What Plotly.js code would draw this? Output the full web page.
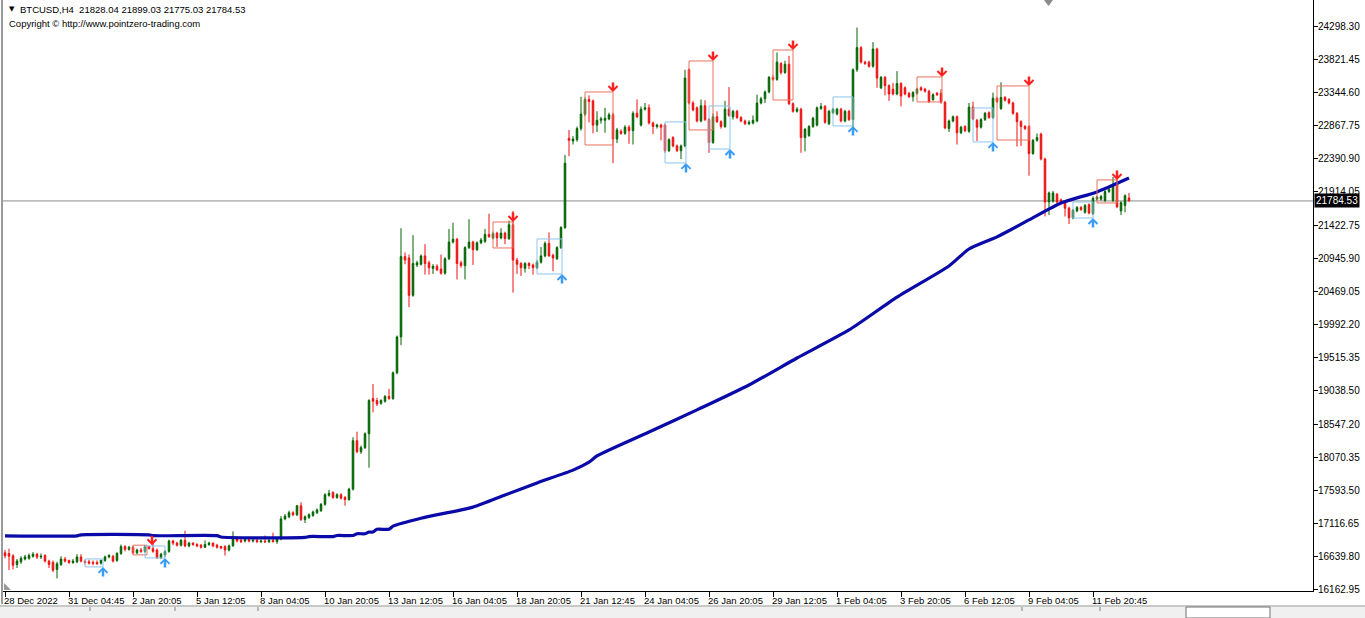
<!DOCTYPE html>
<html><head><meta charset="utf-8">
<script src="https://cdn.plot.ly/plotly-3.0.1.min.js"></script>
<style>html,body{margin:0;padding:0;background:#fff;}#chart{width:1365px;height:618px;}</style>
</head><body><div id="chart"></div>
<script>
// ---- candle data (BTCUSD H4), index 0 = 28 Dec 2022 ----
const opens = [
16700,16690,16656,16530,16570,16610,16620,16650,16680,16640,
16660,16580,16560,16460,16530,16610,16590,16560,16570,16640,
16580,16570,16560,16560,16550,16590,16640,16650,16590,16690,
16790,16750,16780,16700,16740,16720,16790,16760,16740,16630,
16670,16720,16870,16840,16810,16880,16800,16840,16820,16810,
16780,16820,16840,16810,16790,16790,16740,16800,16900,16880,
16870,16890,16870,16880,16860,16870,16860,16880,16860,16900,
17190,17220,17280,17250,17380,17180,17210,17240,17280,17310,
17400,17530,17570,17500,17540,17500,17470,17620,18320,18160,
18220,18420,18930,18900,18860,18890,18960,18930,19300,19820,
20980,20960,20420,20860,20870,20990,20890,20810,20840,20800,
20740,20950,21190,21230,20890,20850,21110,21190,21080,21180,
21200,21300,21250,21320,21250,21320,21240,21440,20930,20880,
20810,20880,20860,20820,20900,20990,21170,21000,20950,21110,
21400,22690,22650,22670,22830,23040,23250,23230,22880,22950,
22950,22970,23030,22680,22790,22760,22850,22800,23050,22880,
23110,23130,22910,22860,22880,22880,22510,22700,22580,22510,
22580,23680,23200,23130,22940,23160,22960,22630,23000,22930,
22860,23110,23000,23080,22990,22940,22900,22910,22940,23200,
23260,23360,23570,23540,23770,23640,23760,23190,23080,23110,
22700,22730,22860,22880,23120,23150,22900,23060,23040,23110,
22940,23080,22960,23680,24000,23790,23790,23730,23980,23420,
23570,23450,23400,23330,23480,23420,23340,23290,23340,23420,
23400,23370,23250,23340,23340,23210,22830,22940,23000,22770,
22860,22790,23140,22950,22850,22960,23060,22990,23270,23120,
23280,23250,23200,23050,22930,22860,22860,22470,22660,22750,
22390,21770,21780,21880,21800,21760,21680,21540,21640,21690,
21620,21730,21600,21810,21810,21790,21920,21790,22040,21640,
21720,21828.04];
const highs = [
16740,16760,16680,16610,16650,16670,16690,16710,16700,16690,
16680,16600,16590,16570,16650,16640,16600,16610,16680,16680,
16600,16600,16590,16590,16600,16660,16680,16670,16710,16820,
16810,16800,16800,16760,16770,16810,16800,16860,16760,16700,
16740,16890,16890,16860,16900,17020,16860,16850,16840,16830,
16880,16860,16850,16830,16800,16810,16820,17010,16920,16900,
16920,16910,16900,16900,16890,16950,16900,16990,16920,17230,
17260,17310,17300,17390,17430,17240,17270,17310,17340,17420,
17560,17610,17590,17560,17560,17520,17640,18370,18450,18250,
18440,18920,19140,18940,18920,18980,19070,19320,19840,21390,
21040,21010,21290,20920,21010,21160,20920,20870,20870,21010,
20970,21380,21470,21250,20920,21130,21520,21210,21200,21250,
21380,21600,21340,21340,21390,21340,21500,21640,20960,20900,
20900,20900,20880,20930,21120,21200,21330,21020,21130,21420,
22450,22810,22720,22860,23290,23280,23310,23250,23080,23000,
23130,23060,23060,22840,22820,22880,22880,23080,23250,23150,
23200,23180,22930,22900,22900,22900,22690,22720,22600,22600,
23680,23700,23230,23150,23250,23240,22980,23050,23080,22950,
23230,23430,23100,23100,23010,22960,22950,23020,23320,23290,
23380,23590,23600,23930,23790,23810,23880,23210,23140,23130,
22840,22880,23000,23150,23200,23170,23100,23130,23130,23130,
23100,23100,23700,24290,24020,23810,23810,24080,24000,23590,
23590,23470,23490,23660,23500,23440,23360,23370,23420,23440,
23420,23390,23340,23360,23400,23230,22960,23020,23020,22870,
22880,23200,23220,22970,22980,23070,23080,23350,23290,23500,
23300,23270,23220,23070,22950,22880,22880,22680,22760,22770,
22410,21920,21930,21900,21820,21780,21700,21670,21710,21710,
21740,21750,21850,21860,21870,21940,21970,22130,22180,21780,
21880,21899.03];
const lows = [
16620,16450,16460,16480,16540,16590,16600,16630,16610,16610,
16560,16480,16420,16330,16510,16560,16540,16540,16550,16560,
16530,16530,16520,16530,16530,16570,16620,16560,16570,16670,
16720,16730,16680,16680,16700,16700,16750,16700,16610,16610,
16640,16700,16810,16790,16790,16780,16780,16800,16780,16760,
16770,16800,16780,16760,16750,16660,16720,16790,16850,16840,
16850,16850,16850,16840,16840,16840,16840,16850,16830,16880,
17170,17200,17230,17230,17160,17130,17190,17220,17260,17290,
17380,17510,17480,17480,17470,17380,17450,17600,18140,18130,
18200,17930,18730,18820,18840,18870,18910,18910,19280,19700,
20870,20250,20400,20830,20850,20720,20720,20730,20770,20720,
20720,20930,21170,20650,20820,20650,21090,20860,21060,21160,
21180,21250,21230,21120,21230,21160,21220,20460,20730,20700,
20750,20800,20720,20800,20880,20970,20980,20770,20930,21090,
21380,22430,22600,22640,22800,23010,22920,22760,22780,22900,
22770,22950,22330,22620,22740,22740,22610,22600,22980,22860,
23090,22890,22750,22830,22660,22480,22490,22560,22490,22390,
22560,23180,23080,22920,22920,22940,22480,22610,22910,22830,
22840,23000,22960,22970,22920,22880,22880,22890,22920,23180,
23200,23340,23520,23520,23610,23620,23170,23060,23060,22480,
22500,22710,22840,22860,23100,22900,22880,23040,23020,22920,
22920,22940,22750,23650,23770,23750,23710,23710,23420,23400,
23310,23230,23310,23310,23150,23310,23270,23220,23320,23370,
23350,23200,23230,23300,23190,22820,22780,22920,22600,22750,
22780,22770,22950,22650,22830,22940,22970,22970,23200,23100,
23220,23180,23030,22570,22580,22810,22150,22450,22640,22370,
21560,21580,21760,21750,21740,21560,21450,21520,21620,21640,
21600,21590,21580,21790,21790,21770,21900,21770,21680,21580,
21620,21775.03];
const closes = [
16656,16650,16520,16580,16620,16640,16660,16680,16640,16650,
16580,16530,16450,16540,16610,16580,16560,16580,16640,16580,
16560,16550,16550,16540,16590,16640,16660,16580,16690,16790,
16750,16780,16700,16740,16720,16790,16760,16720,16630,16680,
16720,16870,16840,16810,16880,16800,16840,16820,16800,16780,
16820,16840,16800,16780,16770,16740,16800,16900,16870,16860,
16890,16870,16880,16860,16870,16860,16880,16860,16900,17190,
17230,17280,17250,17380,17180,17220,17250,17290,17320,17400,
17540,17560,17500,17540,17490,17470,17620,18320,18160,18220,
18420,18900,18890,18850,18900,18960,18930,19300,19820,20980,
20930,20420,20880,20890,20990,20880,20820,20840,20790,20740,
20950,21190,21230,20880,20850,21110,21190,21080,21180,21220,
21300,21270,21310,21250,21320,21240,21440,20930,20870,20820,
20880,20850,20820,20900,20990,21170,20990,20960,21110,21400,
22330,22660,22680,22830,23040,23250,23220,22880,22950,22970,
22980,23030,22680,22810,22760,22850,22800,23050,23000,23110,
23130,22910,22860,22880,22850,22510,22670,22580,22510,22580,
23560,23200,23100,22940,23160,22960,22630,23000,22930,22860,
23110,23020,23080,22990,22940,22900,22920,22950,23200,23260,
23360,23570,23540,23790,23640,23760,23190,23080,23110,22700,
22820,22860,22980,23130,23150,22920,23080,23110,23110,22940,
23080,22960,23680,24000,23790,23770,23730,23980,23560,23570,
23450,23330,23330,23480,23300,23330,23290,23350,23400,23390,
23370,23220,23320,23320,23210,22840,22940,23000,22770,22850,
22800,23140,22970,22850,22960,23050,22990,23270,23220,23280,
23240,23200,23050,22930,22860,22830,22470,22660,22700,22390,
21770,21900,21900,21770,21760,21680,21540,21650,21690,21660,
21720,21610,21820,21840,21850,21920,21950,22020,21700,21760,
21860,21784.53];

// ---- moving average (sampled at bar indices) ----
const maIdx = [0,18,19,36,37,53,54,75,76,82,83,87,88,90,91,92,93,96,97,104,117,125,133,142,146,148,161,173,186,198,211,223,236,241,248,256,264,273,281];
const maVal = [16945,16945,16960,16960,16948,16948,16928,16922,16935,16935,16950,16950,16975,16975,17000,17000,17040,17040,17085,17200,17360,17535,17710,17895,18010,18100,18445,18765,19125,19515,19920,20395,20845,21090,21265,21510,21755,21915,22115];

// ---- signal boxes ----
const redBoxX0 = [32,122,145,171,192,228,248,273];
const redBoxX1 = [35.5,127,152,177,197,234.25,256,278];
const redBoxLo = [16670,21105,22593,22810,23243,23215,22665,21755];
const redBoxHi = [16810,21480,23359,23807,23966,23576,23446,22088];
const redArrowX = [36.75,127,152,177,197,234.25,256,278];
const blueBoxX0 = [20,35,133,165,176,207,242,267];
const blueBoxX1 = [24.5,40,139.25,170.25,181.25,212,247,272];
const blueBoxLo = [16496,16626,20729,22333,22535,22868,22637,21538];
const blueBoxHi = [16611,16799,21235,22926,23157,23287,23128,21770];

// ---- axes ----
const yTicks = [24298.30,23821.45,23344.60,22867.75,22390.90,21914.05,21422.75,20945.90,20469.05,19992.20,19515.35,19038.50,18547.20,18070.35,17593.50,17116.65,16639.80,16162.95];
const xLabelIdx = [0,16,32,48,64,80,96,112,128,144,160,176,192,208,224,240,256,272];
const xLabels = ['28 Dec 2022','31 Dec 04:45','2 Jan 20:05','5 Jan 12:05','8 Jan 04:05','10 Jan 20:05','13 Jan 12:05','16 Jan 04:05','18 Jan 20:05','21 Jan 12:45','24 Jan 04:05','26 Jan 20:05','29 Jan 12:05','1 Feb 04:05','3 Feb 20:05','6 Feb 12:05','9 Feb 04:05','11 Feb 20:45'];
const lastPrice = 21784.53;
const symbolLine = 'BTCUSD,H4\u00a0\u00a021828.04 21899.03 21775.03 21784.53';
const copyrightLine = 'Copyright \u00a9 http://www.pointzero-trading.com';

const barIdx = closes.map((_, i) => i);
const FONT = 'Liberation Sans, Arial, sans-serif';

// pixel helpers for decorations outside the data (plot area: x 3..1313, y 0..591)
const PL = 3, PR = 1313, PT = 0, PB = 591;
const px = v => (v - PL) / (PR - PL);
const py = v => (PB - v) / (PB - PT);

const traces = [
  {
    type: 'candlestick', x: barIdx, open: opens, high: highs, low: lows, close: closes,
    increasing: {line: {color: '#006400', width: 1}, fillcolor: '#006400'},
    decreasing: {line: {color: '#ee1111', width: 1}, fillcolor: '#ee1111'},
    whiskerwidth: 0, hoverinfo: 'skip', showlegend: false
  },
  {
    type: 'scatter', mode: 'lines', x: maIdx, y: maVal,
    line: {color: '#0a0aa8', width: 3.2, shape: 'spline', smoothing: 0.6}, hoverinfo: 'skip', showlegend: false
  }
];

const shapes = [];
const annotations = [];

// price line
shapes.push({type: 'line', xref: 'paper', x0: 0, x1: 1, yref: 'y', y0: lastPrice, y1: lastPrice, line: {color: '#8c8c8c', width: 1}, layer: 'below'});

redBoxX0.forEach((x0, k) => {
  shapes.push({type: 'rect', xref: 'x', yref: 'y', x0: x0, x1: redBoxX1[k], y0: redBoxLo[k], y1: redBoxHi[k], line: {color: '#e8735f', width: 1}, fillcolor: 'rgba(0,0,0,0)'});
  annotations.push({xref: 'x', yref: 'y', x: redArrowX[k], y: redBoxHi[k], text: '', showarrow: true, arrowhead: 4, arrowsize: 0.7, arrowwidth: 2.5, arrowcolor: '#ff2020', ax: 0, ay: -11});
});
blueBoxX0.forEach((x0, k) => {
  shapes.push({type: 'rect', xref: 'x', yref: 'y', x0: x0, x1: blueBoxX1[k], y0: blueBoxLo[k], y1: blueBoxHi[k], line: {color: '#8cc4ec', width: 1}, fillcolor: 'rgba(0,0,0,0)'});
  annotations.push({xref: 'x', yref: 'y', x: blueBoxX1[k], y: blueBoxLo[k], text: '', showarrow: true, arrowhead: 4, arrowsize: 0.7, arrowwidth: 2.5, arrowcolor: '#3a9cf5', ax: 0, ay: 11});
});

// x labels (left-aligned at tick like MT4)
xLabelIdx.forEach((xi, k) => {
  annotations.push({xref: 'x', yref: 'paper', x: xi, y: 0, xanchor: 'left', yanchor: 'top', yshift: -2, xshift: -3, text: xLabels[k], showarrow: false, font: {family: FONT, size: 9.5, color: '#000'}});
});

// header texts
annotations.push({xref: 'paper', yref: 'paper', x: px(7), y: py(9), xanchor: 'left', yanchor: 'middle', text: '\u25BC', showarrow: false, font: {family: 'DejaVu Sans', size: 7, color: '#000'}});
annotations.push({xref: 'paper', yref: 'paper', x: px(18), y: py(9), xanchor: 'left', yanchor: 'middle', text: symbolLine, showarrow: false, font: {family: FONT, size: 9.5, color: '#000'}});
annotations.push({xref: 'paper', yref: 'paper', x: px(7), y: py(23), xanchor: 'left', yanchor: 'middle', text: copyrightLine, showarrow: false, font: {family: FONT, size: 9.5, color: '#000'}});

// last price tag
annotations.push({xref: 'paper', yref: 'y', x: 1, xshift: 1, y: lastPrice, xanchor: 'left', yanchor: 'middle', text: lastPrice.toFixed(2), showarrow: false, bgcolor: '#000', borderpad: 1, font: {family: FONT, size: 10, color: '#fff'}});

// decorations: chart-shift marker, corner triangle, left border, bottom tab strip
shapes.push({type: 'path', xref: 'paper', yref: 'paper', path: `M ${px(1044)} ${py(0)} L ${px(1053)} ${py(0)} L ${px(1048.5)} ${py(6)} Z`, fillcolor: '#8a8a8a', line: {width: 0}});
shapes.push({type: 'path', xref: 'paper', yref: 'paper', path: `M ${px(4)} ${py(583)} L ${px(4)} ${py(590)} L ${px(11)} ${py(590)} Z`, fillcolor: '#9a9a9a', line: {width: 0}});
shapes.push({type: 'line', xref: 'paper', yref: 'paper', x0: px(2), x1: px(2), y0: py(0), y1: py(604), line: {color: '#9a9a9a', width: 2}});
shapes.push({type: 'rect', xref: 'paper', yref: 'paper', x0: px(0), x1: px(1365), y0: py(605), y1: py(618), fillcolor: '#f0f0f0', line: {width: 0}});
shapes.push({type: 'line', xref: 'paper', yref: 'paper', x0: px(0), x1: px(1365), y0: py(606), y1: py(606), line: {color: '#a0a0a0', width: 1}});
[90, 175, 258, 1022, 1100].forEach(v => shapes.push({type: 'line', xref: 'paper', yref: 'paper', x0: px(v), x1: px(v), y0: py(607), y1: py(611), line: {color: '#808080', width: 1}}));
shapes.push({type: 'rect', xref: 'paper', yref: 'paper', x0: px(1186), x1: px(1270), y0: py(607), y1: py(618), fillcolor: '#ffffff', line: {color: '#707070', width: 1}});

const layout = {
  width: 1365, height: 618, autosize: false,
  margin: {l: PL, r: 1365 - PR, t: PT, b: 618 - PB, pad: 0},
  paper_bgcolor: '#ffffff', plot_bgcolor: '#ffffff',
  showlegend: false, boxgap: 0.45, dragmode: false,
  xaxis: {type: 'linear', range: [-0.5, 327], rangeslider: {visible: false}, showgrid: false, zeroline: false,
          tickvals: xLabelIdx, showticklabels: false, ticks: 'outside', ticklen: 5, tickcolor: '#000', tickwidth: 1,
          showline: true, linecolor: '#000', linewidth: 1, fixedrange: true},
  yaxis: {side: 'right', range: [16148, 24688], showgrid: false, zeroline: false,
          tickvals: yTicks, ticktext: yTicks.map(v => v.toFixed(2)), ticks: 'outside', ticklen: 4, tickcolor: '#000',
          ticklabelstandoff: -2,
          showline: true, linecolor: '#000', linewidth: 1, tickfont: {family: FONT, size: 10, color: '#000'}, fixedrange: true},
  shapes: shapes, annotations: annotations
};

Plotly.newPlot('chart', traces, layout, {displayModeBar: false, staticPlot: true});
</script>
</body></html>
